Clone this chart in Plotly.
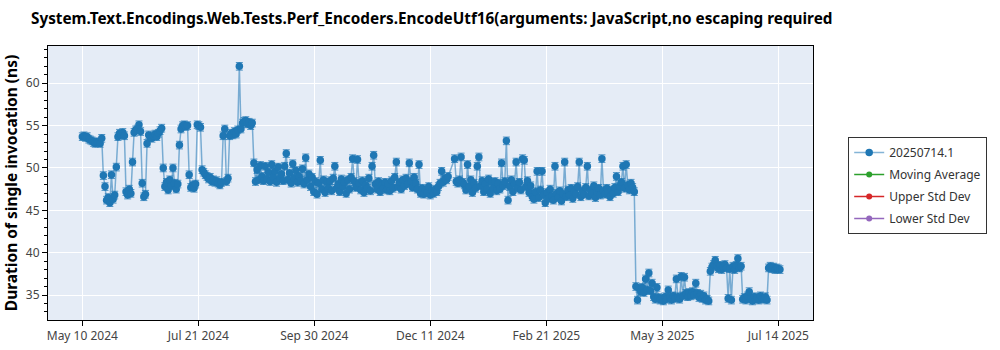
import pandas as pd
import plotly.graph_objects as go

# Daily benchmark results (ns), one value per day starting at start_date.
# None marks days without a run (the line is drawn across them).
start_date = "2024-05-10"
duration_ns = [
    53.7, 53.8, 53.6, 53.7, 53.4, 53.3, 53.2, 53.0, 52.9, 53.1,
    53.0, 52.9, 53.5, 49.1, 47.8, 46.2, 46.5, 45.9, 49.2, 46.3,
    46.8, 50.1, 53.7, 54.1, 53.9, 54.2, 53.8, 47.2, 46.8, 47.5,
    47.0, 50.7, 54.2, 54.5, 54.6, 55.1, 54.3, 48.2, 46.6, 46.9,
    52.9, 53.9, 53.6, 53.5, 53.8, 54.0, 53.7, 54.1, 54.4, 54.7,
    50.0, 47.8, 48.3, 47.4, 48.6, 47.9, 50.0, 48.2, 47.5, 48.1,
    52.7, 54.6, 55.0, 55.1, 54.9, 55.0, 49.2, 47.7, 48.0, 47.6,
    48.1, 55.1, 55.0, 54.8, 49.8, 49.5, 49.2, 49.0, 48.7, 48.9,
    48.4, 48.6, 48.3, 48.5, 48.2, 48.0, 48.3, 53.8, 54.6, 48.4,
    48.8, 53.8, 54.1, 53.9, 54.3, 54.0, 54.5, 62.0, 54.6, 55.3,
    55.5, 55.6, 55.2, 55.4, 55.0, 55.3, 50.6, 48.4, 49.8, 48.6,
    50.3, 49.0, 48.5, 50.2, 48.7, 49.5, 48.4, 50.4, 48.9, 49.6,
    48.3, 50.1, 48.8, 49.3, 48.5, 50.2, 51.7, 48.6, 49.4, 48.2,
    50.5, 48.8, 49.7, 48.3, 49.0, 48.5, 49.9, 48.1, 51.2, 48.6,
    49.3, 47.8, 48.9, 47.2, 48.4, 46.9, 48.2, 50.9, 47.5, 48.6,
    47.1, 48.3, 47.6, 48.5, 47.3, 48.8, 50.2, 47.6, 48.1, 47.2,
    48.7, 47.8, 48.3, 47.0, 48.6, 47.5, 48.9, 51.1, 48.4, 47.7,
    51.0, 48.2, 47.4, 48.5, 47.1, 48.0, 47.6, 48.8, 47.3, 50.2,
    51.5, 48.1, 47.5, 48.4, 47.2, 48.0, 47.6, 48.3, 47.4, 48.1,
    47.3, 48.5, 47.6, 48.9, 50.7, 47.8, 48.3, 47.5, 48.6, 47.9,
    48.8, 48.1, 50.6, 48.4, 47.7, 48.9, 48.2, 47.5, 50.4, 47.0,
    47.6, 46.9, 47.4, 47.1, 47.8, 46.8, 47.3, 47.0, 47.5, 47.2,
    47.8, 48.2, 49.6, 48.3, 48.8, 48.6, 49.0, None, None, None,
    51.1, 48.4, 48.2, 48.6, 51.3, 48.3, 48.0, 47.4, 50.4, 47.8,
    48.6, 47.1, 48.2, 47.6, 50.2, 51.3, 47.9, 48.5, 47.2, 48.1,
    47.5, 48.7, 47.0, 48.3, 47.6, 48.4, 47.3, 48.2, 47.5, 50.6,
    47.9, 48.4, 53.2, 46.2, 47.8, 48.6, 47.2, 48.1, 50.7, 47.6,
    48.3, 47.4, 51.1, 50.9, 47.8, 48.5, 47.1, 47.9, 46.6, 46.3,
    47.2, 49.6, 46.5, 47.4, 49.6, 46.8, 45.9, 47.1, 46.4, 47.5,
    46.7, 46.2, 50.2, 47.0, 46.5, 47.3, 46.1, 46.9, 50.7, 46.6,
    47.4, 46.8, 47.6, 46.4, 47.2, 46.9, 47.8, 50.7, 46.6, 47.3,
    46.9, 47.7, 50.2, 46.7, 47.4, 47.0, 47.9, 46.5, 47.2, 47.6,
    46.8, 51.1, 47.3, 46.9, 47.6, 47.1, 46.6, 47.4, 47.0, 47.7,
    49.0, 47.2, 47.8, 48.3, 50.2, 47.6, 50.4, 48.0, 47.4, 48.2,
    47.7, 47.2, 36.0, 34.4, 35.8, 35.4, 35.9, 35.3, 36.9, 35.6,
    37.6, 35.5, 36.4, 34.8, 34.5, 35.9, 34.7, 34.4, 34.6, 34.3,
    34.8, 34.5, 35.6, 34.7, 34.4, 34.9, 34.6, 36.9, 34.8, 34.5,
    37.2, 34.9, 37.1, 35.2, 34.8, 35.3, 34.9, 35.4, 35.0, 36.4,
    35.2, 34.7, 35.1, 34.6, 34.9, 34.4, 34.5, 34.3, 37.8, 38.3,
    38.6, 39.1, 38.4, 38.1, 38.5, 38.0, 38.3, 38.6, 38.2, 34.6,
    38.1, 34.4, 38.4, 38.0, 38.5, 39.3, 38.2, 38.4, 34.5, 34.7,
    34.4, 34.9, 35.4, 34.6, 34.3, 34.8, 34.5, 34.7, 34.4, 34.9,
    34.6, 34.5, 34.8, 34.4, 38.2, 38.4, 38.1, 38.3, 38.0, 38.2,
    38.1, 38.0,
]

series_name = "20250714.1"
legend_only_series = ["Moving Average", "Upper Std Dev", "Lower Std Dev"]

tick_labels = ["May 10 2024", "Jul 21 2024", "Sep 30 2024", "Dec 11 2024",
               "Feb 21 2025", "May 3 2025", "Jul 14 2025"]
tick_span = ("2024-05-10", "2025-07-14")
x_range = ["2024-04-18 19:00", "2025-08-04 10:00"]
y_range = [32.05, 64.4]

title_text = ("System.Text.Encodings.Web.Tests.Perf_Encoders.EncodeUtf16"
              "(arguments: JavaScript,no escaping required")
y_title = "Duration of single invocation (ns)"

BLUE = "#1f77b4"
colors = {"Moving Average": "#2ca02c", "Upper Std Dev": "#d62728",
          "Lower Std Dev": "#9467bd"}
FONT = "Noto Sans, Open Sans, sans-serif"

dates = pd.date_range(start_date, periods=len(duration_ns), freq="D")
tick_vals = pd.date_range(tick_span[0], tick_span[1], periods=len(tick_labels))

fig = go.Figure()
fig.add_trace(go.Scatter(
    x=dates, y=duration_ns, name=series_name, mode="lines+markers",
    connectgaps=True, legendgroup="a",
    line=dict(color="rgba(31,119,180,0.55)", width=1.5),
    marker=dict(color=BLUE, size=7.5),
    error_y=dict(type="constant", value=0.45, thickness=1, width=3.5,
                 color="rgba(31,119,180,0.75)"),
))
for i, name in enumerate(legend_only_series):
    fig.add_trace(go.Scatter(
        x=[None], y=[None], name=name, mode="lines+markers",
        legendgroup=f"g{i}",
        line=dict(color=colors[name], width=1.5),
        marker=dict(color=colors[name], size=6),
    ))

axis_common = dict(showline=True, mirror=True, linecolor="black", linewidth=1,
                   gridcolor="white", gridwidth=1, zeroline=False,
                   automargin=False,
                   ticks="outside", ticklen=5, tickcolor="black",
                   tickfont=dict(family=FONT, size=12, color="#444"))

fig.update_xaxes(type="date", range=x_range, tickvals=tick_vals,
                 ticktext=tick_labels, **axis_common)
fig.update_yaxes(range=y_range, dtick=5, tick0=0,
                 minor=dict(dtick=1, ticks="outside", ticklen=3,
                            tickcolor="black", showgrid=False),
                 title=dict(text=y_title, standoff=8,
                            font=dict(family=FONT, size=15.5, color="black",
                                      weight="bold")),
                 **axis_common)

# Drop shadow behind the legend box
fig.add_shape(type="rect", xref="paper", yref="paper",
              x0=1.0497, x1=1.2196, y0=0.3285, y1=0.657,
              fillcolor="#a8a8a8", line=dict(width=0), layer="above")

fig.update_layout(
    width=1000, height=350,
    margin=dict(l=48, r=187, t=46, b=30, autoexpand=False),
    paper_bgcolor="white", plot_bgcolor="#E5ECF6",
    title=dict(text=title_text, x=0.031, xanchor="left", y=0.948,
               yanchor="middle",
               font=dict(family=FONT, size=15.3, color="black", weight="bold")),
    legend=dict(x=1.046, y=0.668, xanchor="left", yanchor="top",
                bgcolor="white", bordercolor="#333", borderwidth=1,
                font=dict(family=FONT, size=12, color="#333"),
                tracegroupgap=3, itemwidth=30),
    showlegend=True,
)

fig.write_html("out.html")
